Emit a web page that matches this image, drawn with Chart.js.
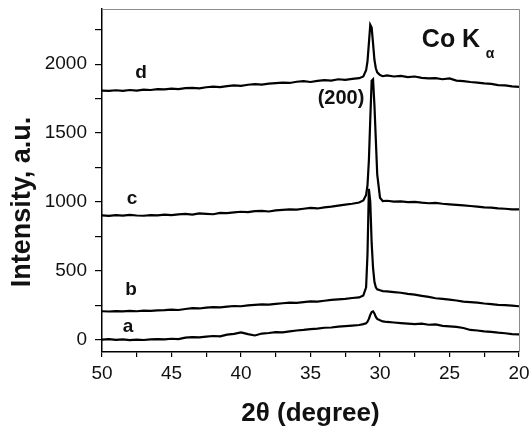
<!DOCTYPE html>
<html>
<head>
<meta charset="utf-8">
<script src="https://cdn.jsdelivr.net/npm/chart.js@4/dist/chart.umd.min.js"></script>
<style>
html,body{margin:0;padding:0;background:#fff;}
#wrap{width:531px;height:430px;}
</style>
</head>
<body>
<div id="wrap"><canvas id="c" width="531" height="430"></canvas></div>
<script>
// 2-theta positions (degree) shared by all patterns
const twoTheta = [
  50,49.5,49,48.5,48,47.5,47,46.5,46,45.5,45,44.5,44,43.5,43,42.5,42,41.5,41,40.5,40,39.5,39,38.5,38,37.5,37,36.5,36,35.5,35,34.5,34,33.5,33,32.5,32,
  31.5,31.2,31.0,30.9,30.8,30.7,30.6,30.5,30.4,30.3,30.2,30.0,29.8,29.5,
  29,28.5,28,27.5,27,26.5,26,25.5,25,24.5,24,23.5,23,22.5,22,21.5,21,20.5,20
];
// pattern a
const intensityA = [
  0,4,-2,2,-4,0,-3,1,4,2,6,3,14,18,16,22,26,24,36,42,52,40,30,44,48,54,52,60,66,70,76,80,86,88,94,98,102,
  106,112,118,130,150,180,200,205,190,165,150,140,132,128,
  124,120,116,112,116,108,110,100,96,92,84,70,66,60,56,50,46,40,38
];
// pattern b
const intensityB = [
  206,204,207,205,208,206,210,209,212,214,218,215,222,228,226,232,236,234,240,244,242,248,252,256,254,260,264,268,266,272,278,276,282,288,292,296,302,
  306,320,380,620,1095,1000,700,520,420,380,365,358,352,350,
  345,340,332,326,318,310,300,296,290,284,276,272,268,262,258,252,250,246,242
];
// pattern c
const intensityC = [
  902,898,903,900,905,901,899,904,902,907,903,909,912,908,916,913,910,920,918,924,928,925,932,935,930,938,942,946,943,950,956,952,960,965,972,980,986,
  995,1010,1050,1120,1300,1600,1880,1890,1700,1450,1200,1030,1005,1008,
  1002,1004,998,1000,994,990,992,986,982,978,975,970,966,960,958,952,950,946,945
];
// pattern d
const intensityD = [
  1808,1805,1810,1806,1812,1808,1815,1812,1818,1816,1822,1818,1825,1828,1824,1832,1836,1833,1840,1845,1842,1850,1854,1851,1858,1862,1866,1863,1872,1876,1870,1878,1884,1880,1890,1886,1893,
  1898,1910,1955,2020,2150,2285,2265,2150,2030,1970,1940,1920,1912,1918,
  1910,1914,1906,1910,1900,1896,1898,1890,1896,1880,1876,1870,1866,1860,1856,1848,1846,1838,1834
];
const seriesNames = ['a','b','c','d'];
const seriesValues = [intensityA, intensityB, intensityC, intensityD];
// tick positions (minor + major); labels only on majors
const xTickValues = [20,22.5,25,27.5,30,32.5,35,37.5,40,42.5,45,47.5,50];
const xTickLabels = ['20','','25','','30','','35','','40','','45','','50'];
const yTickValues = [0,250,500,750,1000,1250,1500,1750,2000,2250];
const yTickLabels = ['0','','500','','1000','','1500','','2000',''];

const FONT = '"Liberation Sans", Arial, sans-serif';

const annot = {
  id: 'annot',
  afterDraw(chart) {
    const ctx = chart.ctx;
    const a = chart.chartArea;
    ctx.save();
    // top & right frame (grey)
    ctx.strokeStyle = '#8c8c8c';
    ctx.lineWidth = 1;
    ctx.beginPath();
    ctx.moveTo(a.left, a.top + 0.5);
    ctx.lineTo(a.right + 0.5, a.top + 0.5);
    ctx.lineTo(a.right + 0.5, a.bottom);
    ctx.stroke();
    ctx.fillStyle = '#111';
    ctx.textAlign = 'center';
    ctx.textBaseline = 'alphabetic';
    ctx.font = 'bold 19px ' + FONT;
    ctx.fillText('d', 141, 78);
    ctx.fillText('c', 132, 204);
    ctx.fillText('b', 131, 295);
    ctx.fillText('a', 128, 332);
    ctx.font = 'bold 20px ' + FONT;
    ctx.fillText('(200)', 341, 104);
    ctx.font = 'bold 25px ' + FONT;
    ctx.fillText('Co K', 451, 47);
    ctx.font = 'bold 14px ' + FONT;
    ctx.fillText('\u03B1', 490, 58);
    // axis titles
    ctx.font = 'bold 26px ' + FONT;
    ctx.fillText('2\u03B8 (degree)', (a.left + a.right) / 2, 421);
    ctx.save();
    ctx.translate(30, 202);
    ctx.rotate(-Math.PI / 2);
    ctx.font = 'bold 27px ' + FONT;
    ctx.fillText('Intensity, a.u.', 0, 0);
    ctx.restore();
    ctx.restore();
  }
};

new Chart(document.getElementById('c'), {
  type: 'line',
  data: {
    datasets: seriesNames.map((n, i) => ({
      label: n,
      data: twoTheta.map((x, k) => ({x: x, y: seriesValues[i][k]})),
      borderColor: '#000',
      borderWidth: 2.2,
      pointRadius: 0,
      tension: 0,
      fill: false
    }))
  },
  options: {
    responsive: false,
    animation: false,
    events: [],
    layout: {padding: {left: 0, top: 9, right: 12, bottom: 0}},
    plugins: {legend: {display: false}, tooltip: {enabled: false}},
    scales: {
      x: {
        type: 'linear',
        reverse: true,
        min: 20, max: 50,
        afterBuildTicks(s) { s.ticks = xTickValues.map(v => ({value: v})); },
        afterFit(s) { s.height = 78; s.paddingLeft = 0; s.paddingRight = 0; },
        border: {display: true, color: '#000', width: 1.5},
        grid: {display: true, drawOnChartArea: false, drawTicks: true, tickLength: 5, color: '#000', lineWidth: 1.2},
        ticks: {
          autoSkip: false,
          maxRotation: 0,
          padding: 5,
          color: '#111',
          font: {family: FONT, size: 19},
          callback: (v, i) => xTickLabels[xTickValues.indexOf(v)] ?? ''
        }
      },
      y: {
        type: 'linear',
        min: -90, max: 2400,
        afterBuildTicks(s) { s.ticks = yTickValues.map(v => ({value: v})); },
        afterFit(s) { s.width = 102; s.paddingTop = 0; s.paddingBottom = 0; },
        border: {display: true, color: '#000', width: 1.5},
        grid: {display: true, drawOnChartArea: false, drawTicks: true, tickLength: 7, color: '#000', lineWidth: 1.2},
        ticks: {
          autoSkip: false,
          padding: 8,
          color: '#111',
          font: {family: FONT, size: 19},
          callback: (v, i) => yTickLabels[yTickValues.indexOf(v)] ?? ''
        }
      }
    }
  },
  plugins: [annot]
});
</script>
</body>
</html>
